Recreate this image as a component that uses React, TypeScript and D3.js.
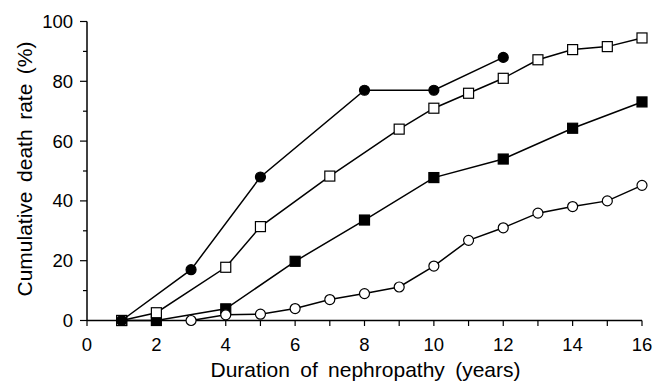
import React from "react";
import * as d3 from "d3";

const xTicks = d3.range(0, 17);
const xLabels = [0, 2, 4, 6, 8, 10, 12, 14, 16];
const yMajor = [0, 20, 40, 60, 80, 100];
const yMinor = [10, 30, 50, 70, 90];

const filledCircles: [number, number][] = [
  [1, 0], [3, 17], [5, 48], [8, 77], [10, 77], [12, 88],
];
const openSquares: [number, number][] = [
  [1, 0], [2, 2.6], [4, 17.8], [5, 31.4], [7, 48.3], [9, 64], [10, 71], [11, 76],
  [12, 81], [13, 87.2], [14, 90.6], [15, 91.6], [16, 94.5],
];
const filledSquares: [number, number][] = [
  [1, 0], [2, 0], [4, 3.9], [6, 19.8], [8, 33.6], [10, 47.8], [12, 54], [14, 64.3], [16, 73.1],
];
const openCircles: [number, number][] = [
  [3, 0], [4, 1.9], [5, 2.1], [6, 4], [7, 7], [8, 9], [9, 11.2], [10, 18.2],
  [11, 26.8], [12, 31], [13, 35.9], [14, 38.1], [15, 40], [16, 45.2],
];

const W = 655;
const H = 381;
const FONT = "'Liberation Sans', Arial, Helvetica, sans-serif";

export default function App() {
  const x = d3.scaleLinear().domain([0, 16]).range([87, 642]);
  const y = d3.scaleLinear().domain([0, 100]).range([320.5, 21.5]);
  const line = d3
    .line<[number, number]>()
    .x((d) => x(d[0]))
    .y((d) => y(d[1]));

  const series = [
    { data: filledSquares, shape: "square", fill: "#000" },
    { data: openCircles, shape: "circle", fill: "#fff" },
    { data: openSquares, shape: "square", fill: "#fff" },
    { data: filledCircles, shape: "circle", fill: "#000" },
  ];

  return (
    <svg
      width={W}
      height={H}
      style={{ position: "absolute", left: 0, top: 0, background: "#fff" }}
      fontFamily={FONT}
    >
      <rect width={W} height={H} fill="#fff" />
      <line x1={x(0)} x2={x(16)} y1={y(0)} y2={y(0)} stroke="#000" strokeWidth={1.5} />
      <line x1={x(0)} x2={x(0)} y1={y(0)} y2={y(100)} stroke="#000" strokeWidth={1.5} />
      {xTicks.map((t) => (
        <line key={"xt" + t} x1={x(t)} x2={x(t)} y1={y(0)} y2={y(0) + 5.5} stroke="#000" strokeWidth={1.2} />
      ))}
      {xLabels.map((t) => (
        <text key={"xl" + t} x={x(t)} y={y(0) + 30} textAnchor="middle" fontSize={18.5} fill="#000">
          {t}
        </text>
      ))}
      {yMajor.map((t) => (
        <g key={"ym" + t}>
          <line x1={x(0) - 7} x2={x(0)} y1={y(t)} y2={y(t)} stroke="#000" strokeWidth={1.2} />
          <text x={x(0) - 14} y={y(t) + 6.5} textAnchor="end" fontSize={18.5} fill="#000">
            {t}
          </text>
        </g>
      ))}
      {yMinor.map((t) => (
        <line key={"yn" + t} x1={x(0) - 4} x2={x(0)} y1={y(t)} y2={y(t)} stroke="#000" strokeWidth={1.2} />
      ))}
      <text
        x={365.5}
        y={377}
        textAnchor="middle"
        fontSize={21}
        fill="#000"
        wordSpacing={4.5}
      >
        Duration of nephropathy (years)
      </text>
      <text
        transform={`translate(31.5,${169}) rotate(-90)`}
        textAnchor="middle"
        fontSize={21}
        fill="#000"
        wordSpacing={3.7}
      >
        Cumulative death rate (%)
      </text>
      {series.map((s, i) => (
        <g key={"s" + i}>
          <path d={line(s.data) || ""} fill="none" stroke="#000" strokeWidth={1.5} />
          {s.data.map((d, j) =>
            s.shape === "circle" ? (
              <circle key={j} cx={x(d[0])} cy={y(d[1])} r={5} fill={s.fill} stroke="#000" strokeWidth={1.2} />
            ) : (
              <rect key={j} x={x(d[0]) - 5} y={y(d[1]) - 5} width={10} height={10} fill={s.fill} stroke="#000" strokeWidth={1.2} />
            )
          )}
        </g>
      ))}
    </svg>
  );
}
